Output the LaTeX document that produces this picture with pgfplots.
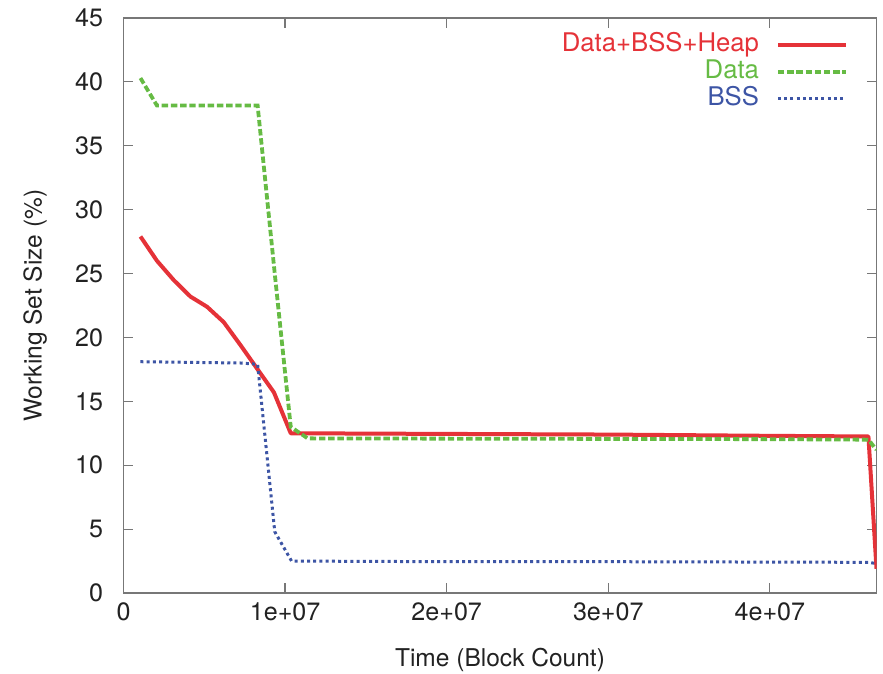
\documentclass[border=0pt]{standalone}
\usepackage{fontspec}
\setmainfont{TeX Gyre Heros}
\usepackage{xcolor}
\usepackage{pgfplots}
\pgfplotsset{compat=1.18}
\definecolor{cred}{HTML}{E53238}
\definecolor{cgreen}{HTML}{66BB44}
\definecolor{cblue}{HTML}{3D55A5}
\definecolor{frame}{HTML}{777777}
\definecolor{txt}{HTML}{222222}

\begin{document}
\begin{tikzpicture}
  \useasboundingbox (-61.75bp,-40.5bp) rectangle (379.75bp,296.5bp);
  \begin{axis}[
    at={(0,0)}, anchor=south west,
    scale only axis,
    width=376.5bp, height=287.5bp,
    xmin=0, xmax=4.66e7,
    ymin=0, ymax=45,
    scaled x ticks=false,
    xtick={0,1e7,2e7,3e7,4e7},
    xticklabels={0,1e+07,2e+07,3e+07,4e+07},
    ytick={0,5,...,45},
    /pgf/number format/assume math mode=true,
    tick pos=both,
    tick align=inside,
    major tick length=5bp,
    tick style={draw=frame, line width=0.6bp},
    axis line style={draw=frame, line width=0.8bp},
    font=\fontsize{12}{14}\selectfont,
    ticklabel style={text=txt, font=\fontsize{12.6}{14}\selectfont},
    yticklabel style={inner sep=0pt, xshift=-10bp},
    xticklabel style={inner sep=0pt, yshift=-4.5bp},
    xlabel={Time (Block Count)},
    ylabel={Working Set Size (\%)},
    label style={text=txt, font=\fontsize{12.3}{14}\selectfont},
    xlabel style={at={(axis description cs:0.5,-0.1165)}, anchor=center},
    ylabel style={at={(axis description cs:-0.1175,0.5)}, anchor=center},
    legend plot pos=right,
    legend cell align=right,
    legend image code/.code={\draw[#1] (0bp,0bp) -- (34bp,0bp);},
    legend style={
      at={(axis description cs:1,1)}, anchor=north east,
      xshift=-14.25bp, yshift=-7.3bp,
      draw=none, fill=none, inner sep=0pt, outer sep=0pt,
      row sep=1.2bp, column sep=8.5bp,
      font=\fontsize{12.9}{14}\selectfont,
      nodes={inner sep=0pt, text height=9.3bp, text depth=3bp}
    },
    clip=true
  ]
    \addplot[draw=cred, line width=2bp, line join=round] coordinates {
      (1.05e6,27.9) (2.07e6,26.0) (3.1e6,24.5) (4.14e6,23.2) (5.17e6,22.4)
      (6.2e6,21.2) (7.24e6,19.4) (8.3e6,17.5) (9.31e6,15.7) (10.35e6,12.5)
      (2.0e7,12.45) (3.0e7,12.4) (4.0e7,12.3) (4.61e7,12.25) (4.66e7,1.9)
    };
    \addlegendentry{\textcolor{cred}{Data+BSS+Heap}}

    \addplot[draw=cgreen, line width=1.9bp, dash pattern=on 3.2bp off 1.4bp] coordinates {
      (1.05e6,40.3) (2.07e6,38.15) (4.14e6,38.15) (6.2e6,38.15) (8.3e6,38.15)
      (9.36e6,25.0) (10.35e6,13.0) (11.4e6,12.1) (2.0e7,12.08) (3.0e7,12.06)
      (4.0e7,12.04) (4.61e7,12.0) (4.66e7,11.2)
    };
    \addlegendentry{\textcolor{cgreen}{Data}}

    \addplot[draw=cblue, line width=1.5bp, dash pattern=on 1.5bp off 1.6bp] coordinates {
      (1.05e6,18.1) (4.14e6,18.05) (7.24e6,18.0) (8.3e6,17.9) (9.36e6,4.8)
      (10.4e6,2.5) (2.0e7,2.45) (3.0e7,2.45) (4.0e7,2.42) (4.61e7,2.4)
      (4.66e7,2.3)
    };
    \addlegendentry{\textcolor{cblue}{BSS}}
  \end{axis}
\end{tikzpicture}
\end{document}
